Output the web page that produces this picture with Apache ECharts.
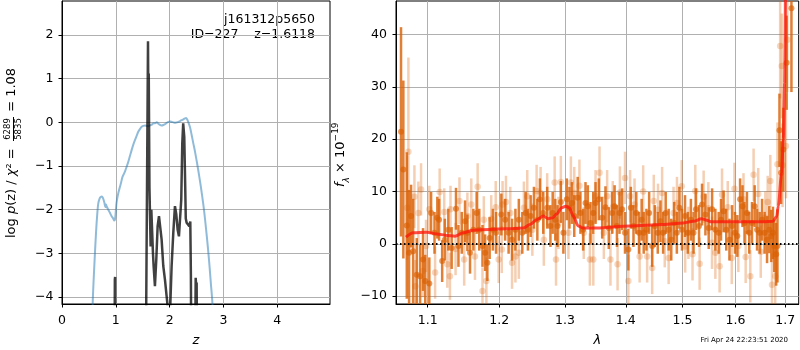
<!DOCTYPE html>
<html>
<head>
<meta charset="utf-8">
<script src="https://cdn.jsdelivr.net/npm/echarts@6/dist/echarts.min.js"></script>
<style>
  html, body { margin: 0; padding: 0; background: #fff; }
  #chart { width: 800px; height: 350px; }
</style>
</head>
<body>
<div id="chart"></div>
<script>
// left panel: redshift probability (blue = chi2 curve, black = log p(z))
const zTicks = [0, 1, 2, 3, 4];
const pTicks = [-4, -3, -2, -1, 0, 1, 2];
const zBlue = [0.55, 0.570, 0.600, 0.632, 0.655, 0.675, 0.700, 0.718, 0.740, 0.760, 0.786, 0.805, 0.815, 0.823, 0.840, 0.860, 0.890, 0.922, 0.950, 0.972, 0.985, 0.997, 1.010, 1.028, 1.050, 1.078, 1.100, 1.121, 1.150, 1.171, 1.200, 1.233, 1.265, 1.295, 1.325, 1.357, 1.390, 1.419, 1.450, 1.481, 1.510, 1.543, 1.570, 1.600, 1.636, 1.670, 1.700, 1.730, 1.760, 1.790, 1.822, 1.850, 1.884, 1.915, 1.946, 1.975, 2.008, 2.040, 2.070, 2.100, 2.132, 2.165, 2.194, 2.225, 2.256, 2.285, 2.306, 2.325, 2.349, 2.380, 2.411, 2.440, 2.473, 2.505, 2.535, 2.565, 2.597, 2.630, 2.659, 2.690, 2.721, 2.745, 2.765, 2.796, 2.82];
const pBlue = [-5.5, -4.16, -3.3, -2.53, -2.1, -1.85, -1.74, -1.71, -1.70, -1.73, -1.83, -1.94, -1.88, -1.87, -1.95, -2.0, -2.07, -2.15, -2.2, -2.25, -2.22, -2.08, -1.88, -1.73, -1.6, -1.47, -1.37, -1.26, -1.18, -1.12, -1.02, -0.9, -0.76, -0.63, -0.51, -0.4, -0.3, -0.21, -0.15, -0.1, -0.08, -0.07, -0.08, -0.09, -0.07, -0.05, -0.02, -0.02, 0.0, -0.03, -0.06, -0.07, -0.06, -0.04, -0.01, 0.01, 0.02, 0.01, 0.0, -0.01, 0.0, 0.01, 0.03, 0.05, 0.07, 0.09, 0.1, 0.07, 0.0, -0.12, -0.3, -0.48, -0.68, -0.9, -1.12, -1.35, -1.62, -1.92, -2.23, -2.6, -3.0, -3.35, -3.67, -4.16, -5.0];
const zBlack = [0.975, 0.982, 0.987, 0.992, 1.555, 1.598, 1.605, 1.612, 1.625, 1.647, 1.660, 1.672, 1.690, 1.703, 1.715, 1.727, 1.752, 1.777, 1.802, 1.826, 1.851, 1.882, 1.913, 1.944, 1.962, 1.975, 2.000, 2.012, 2.037, 2.068, 2.099, 2.124, 2.149, 2.173, 2.195, 2.216, 2.235, 2.252, 2.272, 2.290, 2.300, 2.316, 2.341, 2.366, 2.384, 2.395, 2.405, 2.470, 2.484, 2.493, 2.502, 2.512];
const pBlack = [-6, -3.6, -3.54, -6, -6, 1.86, 0.3, 1.12, -1.5, -2.84, -2.0, -1.96, -2.99, -3.3, -3.29, -3.75, -3.14, -2.38, -2.15, -2.14, -2.68, -3.29, -3.6, -3.98, -4.2, -6, -6, -4.2, -3.29, -2.53, -1.92, -2.11, -2.46, -2.61, -2.58, -1.77, -0.48, -0.02, -0.33, -1.5, -2.2, -2.3, -2.27, -2.38, -2.27, -3.5, -6, -6, -3.56, -3.75, -3.67, -6];

// right panel: spectrum (wavelength in micron, flux in 1e-19)
const lamTicks = [1.1, 1.2, 1.3, 1.4, 1.5, 1.6, 1.7];
const fTicks = [-10, 0, 10, 20, 30, 40];
const lamModel = [1.0713, 1.0809, 1.0987, 1.1121, 1.1257, 1.1372, 1.1487, 1.1628, 1.1867, 1.2111, 1.2358, 1.2459, 1.2561, 1.2662, 1.2740, 1.2808, 1.2870, 1.2949, 1.3017, 1.3069, 1.3133, 1.3213, 1.3294, 1.3512, 1.4072, 1.4654, 1.5015, 1.5199, 1.5355, 1.5449, 1.5543, 1.5893, 1.6551, 1.6741, 1.6823, 1.6855, 1.6925, 1.6958, 1.6987, 1.7003];
const fModel = [1.27, 2.1, 2.2, 1.9, 1.6, 1.45, 2.1, 2.6, 2.75, 2.87, 3.0, 3.7, 4.6, 5.3, 4.8, 5.0, 5.7, 6.9, 7.2, 6.9, 5.3, 3.4, 3.0, 3.0, 3.4, 3.7, 4.0, 4.3, 4.8, 4.5, 4.2, 4.2, 4.2, 4.3, 5.2, 7.2, 13.6, 20, 30.8, 47];
const lamDark = [1.0649, 1.0679, 1.0724, 1.0754, 1.0780, 1.0807, 1.0855, 1.0899, 1.0938, 1.0968, 1.1022, 1.1046, 1.1092, 1.1130, 1.1154, 1.1196, 1.1232, 1.1280, 1.1326, 1.1386, 1.1420, 1.1466, 1.1512, 1.1545, 1.1582, 1.1629, 1.1676, 1.1713, 1.1759, 1.1797, 1.1829, 1.1862, 1.1909, 1.1955, 1.2032, 1.2088, 1.2139, 1.2190, 1.2240, 1.2291, 1.2343, 1.2393, 1.2428, 1.2469, 1.2519, 1.2571, 1.2610, 1.2662, 1.2723, 1.2773, 1.2808, 1.2849, 1.2884, 1.2936, 1.2976, 1.3030, 1.3072, 1.3112, 1.3149, 1.3204, 1.3248, 1.3292, 1.3330, 1.3368, 1.3412, 1.3456, 1.3494, 1.3548, 1.3604, 1.3658, 1.3713, 1.3768, 1.3811, 1.3850, 1.3893, 1.3938, 1.3987, 1.4044, 1.4086, 1.4132, 1.4180, 1.4227, 1.4273, 1.4309, 1.4356, 1.4404, 1.4457, 1.4503, 1.4556, 1.4603, 1.4651, 1.4697, 1.4750, 1.4797, 1.4850, 1.4898, 1.4944, 1.4991, 1.5047, 1.5098, 1.5155, 1.5204, 1.5249, 1.5306, 1.5362, 1.5425, 1.5487, 1.5551, 1.5613, 1.5676, 1.5721, 1.5770, 1.5821, 1.5883, 1.5934, 1.5990, 1.6036, 1.6090, 1.6137, 1.6177, 1.6225, 1.6271, 1.6325, 1.6378, 1.6426, 1.6478, 1.6526, 1.6578, 1.6627, 1.6673, 1.6713, 1.6747, 1.6773, 1.6813, 1.6839, 1.6880, 1.6914, 1.6960, 1.7029, 1.7128];
const fDark = [21.4, 14.2, 3.5, -1.7, 5.3, -1.4, -5.9, -6.2, -3.0, -7.1, -7.6, 5.9, 2.1, 5.0, 4.6, -3.3, 0.8, 2.7, -0.8, 6.7, -0.4, 2.1, 4.3, 2.1, -1.7, 2.7, 5.9, 2.7, -0.4, -1.7, -3.6, 1.1, 2.7, 2.1, 5.6, 4.6, 2.1, 0.8, 2.7, 4.6, 2.1, 5.9, 2.7, 5.3, 6.9, 4.6, 8.5, 5.9, 6.9, 3.4, 5.9, 4.6, 3.4, 8.0, 2.1, 8.5, 6.9, 7.8, 5.3, 8.8, 5.9, 2.7, 7.8, 7.2, 4.0, 5.9, 7.8, 8.5, 5.0, 7.0, 3.0, 5.9, 7.2, 3.4, 5.9, 6.6, 2.1, -1.1, 6.9, 3.4, 5.9, 2.1, 4.6, 2.1, 2.7, 5.9, -0.4, 3.4, 2.1, 4.3, 2.1, 5.9, 2.7, 0.8, 4.0, 2.1, 6.9, 2.7, 5.3, 2.1, 4.6, 2.1, 6.6, 3.4, 7.5, 5.6, 3.0, 6.6, 2.7, 2.1, 4.6, 6.2, 2.7, 0.8, 3.4, 2.1, 1.5, 8.5, 7.2, 4.0, 5.9, 2.1, 4.0, 7.2, 2.7, 2.1, 4.6, 2.1, 0.8, 2.7, 1.5, 2.1, -0.4, -2.0, -0.4, 21.7, 13.6, 18.0, 34.6, 45.0];
const eDark = [20, 17, 14, 12, 6, 10, 7, 6, 6, 5, 5, 4, 4, 4, 4, 4, 4, 4, 4, 4, 4, 4, 4, 3.5, 4, 4, 4, 4, 4, 3.5, 3.5, 4, 4, 4, 4, 4, 4, 4, 4, 4, 4, 4, 4, 4, 4, 4, 4, 4, 4, 4, 4, 4, 4, 4, 4, 4, 4, 4, 4, 4, 4, 4, 4, 4, 4, 4, 4, 4, 4, 4, 4, 4, 4, 4, 4, 4, 4, 4, 4, 4, 4, 4, 4, 4, 4, 4, 4, 4, 4, 4, 4, 4, 4, 4, 4, 4, 4, 4, 4, 4, 4, 4, 4, 4, 4, 4, 4, 4, 4, 4, 4, 4, 4, 4, 4, 4, 4, 4, 4, 4, 4, 4, 4, 4, 4, 4, 4, 4, 4.5, 4.5, 5, 5, 5, 6, 7, 7, 6, 8, 9, 16];
const lamLight = [1.0728, 1.0745, 1.0824, 1.0837, 1.0876, 1.0912, 1.0934, 1.0978, 1.1022, 1.1100, 1.1162, 1.1224, 1.1266, 1.1302, 1.1310, 1.1380, 1.1434, 1.1500, 1.1545, 1.1600, 1.1652, 1.1690, 1.1759, 1.1778, 1.1815, 1.1885, 1.1950, 1.1993, 1.2038, 1.2050, 1.2100, 1.2164, 1.2190, 1.2240, 1.2291, 1.2367, 1.2418, 1.2495, 1.2560, 1.2621, 1.2671, 1.2723, 1.2839, 1.2860, 1.2899, 1.2936, 1.3056, 1.3095, 1.3149, 1.3232, 1.3302, 1.3401, 1.3457, 1.3494, 1.3560, 1.3631, 1.3686, 1.3741, 1.3780, 1.3861, 1.3900, 1.3987, 1.4044, 1.4074, 1.4150, 1.4238, 1.4300, 1.4369, 1.4457, 1.4485, 1.4560, 1.4633, 1.4680, 1.4750, 1.4838, 1.4900, 1.4986, 1.5050, 1.5109, 1.5185, 1.5236, 1.5317, 1.5392, 1.5480, 1.5550, 1.5613, 1.5694, 1.5740, 1.5850, 1.5928, 1.5980, 1.6056, 1.6157, 1.6200, 1.6291, 1.6357, 1.6450, 1.6500, 1.6592, 1.6640, 1.6693, 1.6727, 1.6793, 1.6839, 1.6894, 1.6928, 1.6944, 1.7014, 1.7041];
const fLight = [6.9, 17.6, 9.0, -8.1, 5.9, 10.4, -5.2, -0.4, 6.6, -5.5, 9.9, 6.1, -3.9, -6.2, 6.6, -1.0, 8.2, -3.0, 5.3, 7.5, -2.4, 10.9, -9.0, 4.6, -7.1, 4.8, 7.0, -3.0, -1.1, 7.5, 8.0, 5.9, -3.6, -2.4, -1.7, 6.9, 9.1, 2.7, 10.1, 9.7, 0.8, 8.5, 11.7, -3.0, 4.0, 11.8, 2.1, 11.7, 9.7, 11.1, 2.1, -3.0, -3.0, 9.1, 13.6, 2.1, 9.1, -3.0, 7.0, -3.9, 9.8, 12.6, -7.1, 9.1, 7.5, -2.4, 10.0, -2.4, -4.6, 8.2, 6.5, 9.7, 0.5, -2.7, 5.9, 7.8, 11.0, -0.5, 2.1, -2.0, 10.1, -3.8, 9.0, 6.8, 0.2, -1.7, -4.3, 9.4, 7.0, -2.7, 10.5, -0.4, 8.5, -2.5, -6.2, 13.2, 9.5, -1.5, 5.0, 8.0, 12.0, -7.8, -6.2, 15.2, 37.8, 34.0, 15.0, 18.7, 39.0];
const eLight = [10, 18, 6, 5, 6, 5, 5, 5, 4.5, 5, 4.5, 4.5, 4.5, 4.5, 4.5, 5, 4.5, 5, 4.5, 5, 4.5, 4.5, 4.5, 4.5, 4.5, 4.5, 5, 4.5, 4.5, 4.5, 5, 5, 5, 5, 5, 5, 5, 5, 5, 5, 5, 5, 5, 5, 5, 5, 5, 5, 5, 5, 5, 5, 5, 5, 5, 5, 5, 5, 5, 5, 5, 5, 5, 5, 5, 5, 5, 5, 5, 5, 5, 5, 5, 5, 5, 5, 5, 5, 5, 5, 5, 5, 5, 5, 5, 5, 5, 5, 5, 5, 5, 5, 5, 5, 5, 5, 5, 5, 5, 5, 5, 6, 6, 8, 10, 10, 8, 10, 10];

const FONT = 'DejaVu Sans';
const GRID_COLOR = '#b0b0b0';
const minus = v => (v < 0 ? '\u2212' + Math.abs(v) : String(v));

function pairs(xs, ys, fx) {
    return xs.map((x, i) => [fx ? fx(x) : x, ys[i]]);
}
function triples(xs, ys, es) {
    return xs.map((x, i) => [Math.log(x), ys[i], es[i]]);
}
function errBar(color) {
    return function (params, api) {
        const x = api.value(0), y = api.value(1), e = api.value(2);
        const p1 = api.coord([x, y + e]);
        const p2 = api.coord([x, y - e]);
        return {
            type: 'line',
            shape: { x1: p1[0], y1: p1[1], x2: p2[0], y2: p2[1] },
            style: { stroke: color, lineWidth: 2.5 }
        };
    };
}

function axisCommon(ticks, fmt, margin) {
    return {
        axisLine: { show: true, onZero: false, lineStyle: { color: '#000', width: 1 } },
        axisTick: { show: true, length: 3.5, customValues: ticks, lineStyle: { color: '#000', width: 1 } },
        axisLabel: { customValues: ticks, formatter: fmt, color: '#000', fontSize: 12.5, fontFamily: FONT, margin: margin },
        splitLine: { show: true, lineStyle: { color: GRID_COLOR, width: 1 } }
    };
}

const chart = echarts.init(document.getElementById('chart'), null, { renderer: 'canvas' });

const option = {
    animation: false,
    backgroundColor: '#fff',
    textStyle: { fontFamily: FONT },
    grid: [
        { left: 62, top: 1, width: 268, height: 303, outerBoundsMode: 'none', containLabel: false, show: true, borderColor: '#000', borderWidth: 1, backgroundColor: 'transparent' },
        { left: 396, top: 1, width: 402.7, height: 303, outerBoundsMode: 'none', containLabel: false, show: true, borderColor: '#000', borderWidth: 1, backgroundColor: 'transparent' }
    ],
    xAxis: [
        Object.assign({
            type: 'value', gridIndex: 0, min: 0, max: 4.98,
            name: 'z', nameLocation: 'middle', nameGap: 30,
            nameTextStyle: { fontSize: 13, fontStyle: 'italic', color: '#000', fontFamily: FONT }
        }, axisCommon(zTicks, v => String(v), 10)),
        Object.assign({
            type: 'value', gridIndex: 1, min: Math.log(1.0584), max: Math.log(1.728),
            name: '\u03bb', nameLocation: 'middle', nameGap: 30,
            nameTextStyle: { fontSize: 13, fontStyle: 'italic', color: '#000', fontFamily: FONT }
        }, axisCommon(lamTicks.map(Math.log), v => Math.exp(v).toFixed(1), 10))
    ],
    yAxis: [
        Object.assign({ type: 'value', gridIndex: 0, min: -4.16, max: 2.78 }, axisCommon(pTicks, minus, 8.5)),
        Object.assign({ type: 'value', gridIndex: 1, min: -11.5, max: 46.4 }, axisCommon(fTicks, minus, 9))
    ],
    graphic: [
        {
            type: 'group', x: 12, y: 238, rotation: Math.PI / 2,
            children: [
                {
                    type: 'text', x: 0, y: 0,
                    style: {
                        text: '{r|log }{i|p}{r|(z) / }{i|\u03c7}{r|\u00b2 = }',
                        rich: {
                            r: { fontSize: 13, fontFamily: FONT, fill: '#000' },
                            i: { fontSize: 13, fontFamily: FONT, fontStyle: 'italic', fill: '#000' }
                        },
                        align: 'left', verticalAlign: 'middle'
                    }
                },
                { type: 'text', x: 109, y: -4, style: { text: '6289', fontSize: 8.5, fontFamily: FONT, fill: '#000', align: 'center', verticalAlign: 'middle' } },
                { type: 'line', shape: { x1: 97, y1: 1.5, x2: 121, y2: 1.5 }, style: { stroke: '#000', lineWidth: 1 } },
                { type: 'text', x: 109, y: 7, style: { text: '5835', fontSize: 8.5, fontFamily: FONT, fill: '#000', align: 'center', verticalAlign: 'middle' } },
                { type: 'text', x: 122, y: 0, style: { text: ' = 1.08', fontSize: 13, fontFamily: FONT, fill: '#000', align: 'left', verticalAlign: 'middle' } }
            ]
        },
        {
            type: 'group', x: 341, y: 187, rotation: Math.PI / 2,
            children: [{
                type: 'text', x: 0, y: 0,
                style: {
                    text: '{i|f}{s|\u03bb}{r| \u00d7 10}{p|\u221219}',
                    rich: {
                        r: { fontSize: 13, fontFamily: FONT, lineHeight: 20, verticalAlign: 'middle' },
                        i: { fontSize: 13, fontFamily: FONT, fontStyle: 'italic', lineHeight: 20, verticalAlign: 'middle' },
                        s: { fontSize: 9, fontFamily: FONT, fontStyle: 'italic', lineHeight: 20, verticalAlign: 'bottom' },
                        p: { fontSize: 9, fontFamily: FONT, lineHeight: 20, verticalAlign: 'top' }
                    },
                    fill: '#000', align: 'left', verticalAlign: 'middle'
                }
            }]
        },
        { type: 'text', x: 315, y: 20, style: { text: 'j161312p5650', fontSize: 12.5, fontFamily: FONT, fill: '#000', align: 'right', verticalAlign: 'middle' } },
        { type: 'text', x: 315, y: 35, style: { text: 'ID=227    z=1.6118', fontSize: 12.5, fontFamily: FONT, fill: '#000', align: 'right', verticalAlign: 'middle' } },
        { type: 'text', x: 788, y: 340, style: { text: 'Fri Apr 24 22:23:51 2020', fontSize: 7, fontFamily: FONT, fill: '#000', align: 'right', verticalAlign: 'middle' } }
    ],
    series: [
        {
            type: 'line', xAxisIndex: 0, yAxisIndex: 0, data: pairs(zBlue, pBlue),
            showSymbol: false, smooth: 0.3, clip: true,
            lineStyle: { color: 'rgba(31,119,180,0.5)', width: 2 }
        },
        {
            type: 'line', xAxisIndex: 0, yAxisIndex: 0, data: pairs(zBlack, pBlack),
            showSymbol: false, clip: true,
            lineStyle: { color: 'rgba(0,0,0,0.75)', width: 2.5 }
        },
        {
            type: 'custom', xAxisIndex: 1, yAxisIndex: 1, clip: true,
            data: triples(lamLight, fLight, eLight), encode: { x: 0, y: 1 },
            renderItem: errBar('rgba(217,95,2,0.3)')
        },
        {
            type: 'scatter', xAxisIndex: 1, yAxisIndex: 1, clip: true,
            data: triples(lamLight, fLight, eLight), symbolSize: 6.5,
            itemStyle: { color: 'rgba(217,95,2,0.3)' }
        },
        {
            type: 'custom', xAxisIndex: 1, yAxisIndex: 1, clip: true,
            data: triples(lamDark, fDark, eDark), encode: { x: 0, y: 1 },
            renderItem: errBar('rgba(217,95,2,0.8)')
        },
        {
            type: 'scatter', xAxisIndex: 1, yAxisIndex: 1, clip: true,
            data: triples(lamDark, fDark, eDark), symbolSize: 6,
            itemStyle: { color: 'rgba(217,95,2,0.8)' }
        },
        {
            type: 'line', xAxisIndex: 1, yAxisIndex: 1, data: pairs(lamModel, fModel, Math.log),
            showSymbol: false, smooth: 0.3, smoothMonotone: 'x', clip: true,
            lineStyle: { color: 'rgba(255,20,10,0.75)', width: 3 },
            markLine: {
                silent: true, symbol: 'none', label: { show: false },
                lineStyle: { color: '#000', width: 2, type: [1.5, 2.5] },
                data: [{ yAxis: 0 }]
            }
        }
    ]
};

chart.setOption(option);
</script>
</body>
</html>
